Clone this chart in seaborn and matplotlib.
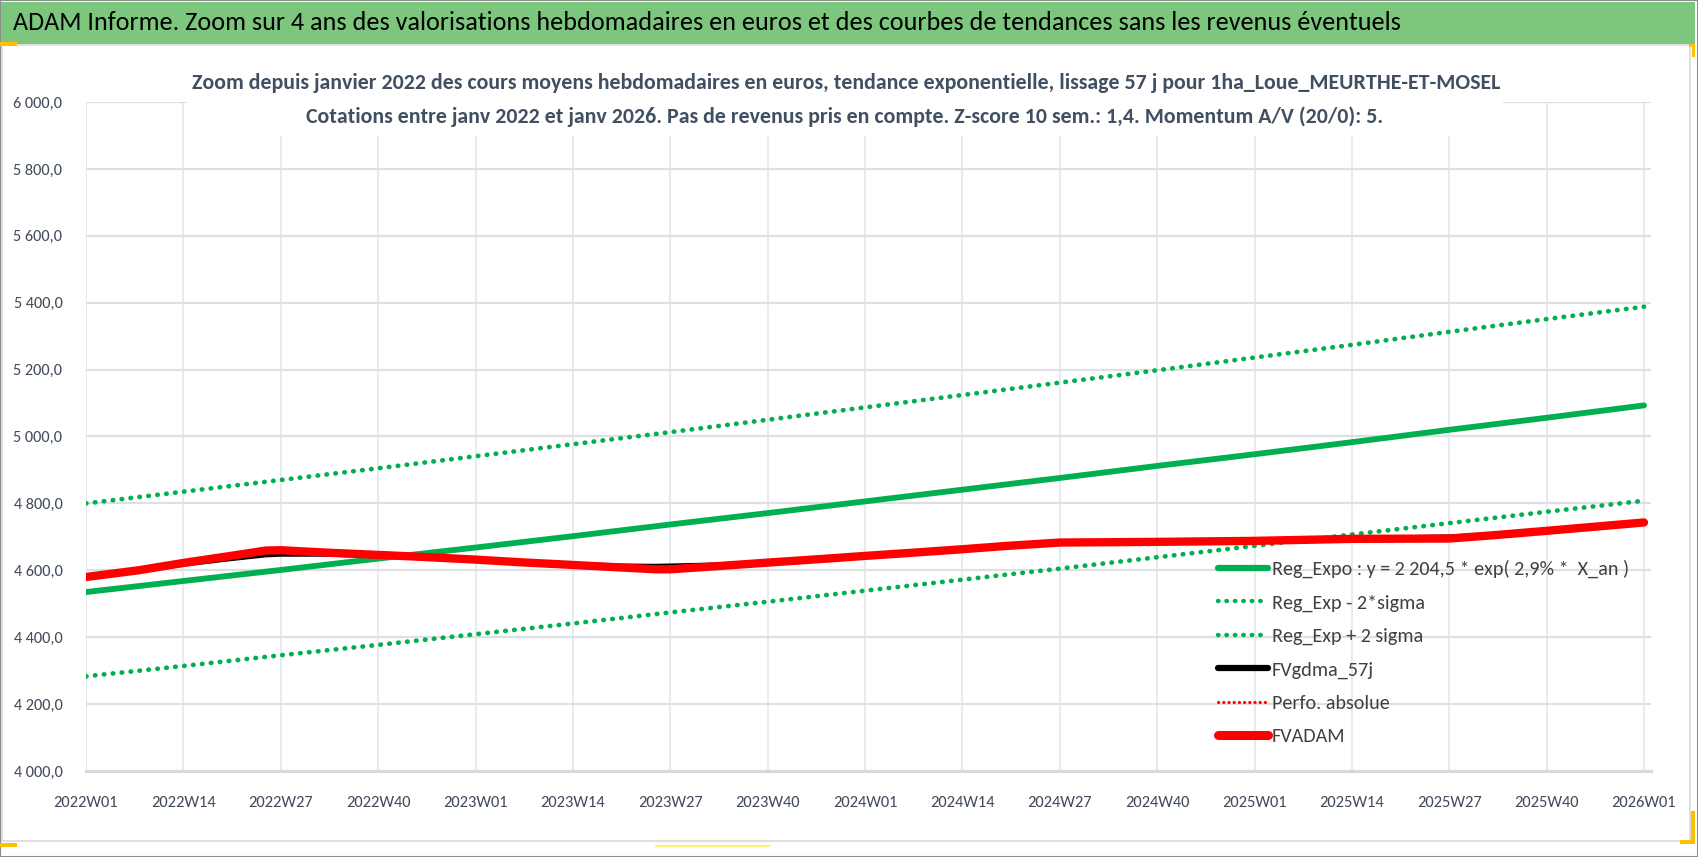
import matplotlib
matplotlib.use("Agg")
import numpy as np
import pandas as pd
import matplotlib.pyplot as plt
import seaborn as sns
from matplotlib import font_manager as fm
from matplotlib.lines import Line2D
from matplotlib.patches import Rectangle
from matplotlib.ticker import FuncFormatter, FixedLocator

# ---------------- data ----------------
tick_labels = ["2022W01", "2022W14", "2022W27", "2022W40",
               "2023W01", "2023W14", "2023W27", "2023W40",
               "2024W01", "2024W14", "2024W27", "2024W40",
               "2025W01", "2025W14", "2025W27", "2025W40",
               "2026W01"]

reg_expo = [4535, 4568, 4601, 4635, 4668, 4702, 4737, 4771, 4806,
            4841, 4876, 4912, 4947, 4983, 5020, 5056, 5093]
reg_minus = [4283, 4314, 4346, 4377, 4409, 4441, 4474, 4506, 4539,
             4572, 4605, 4639, 4673, 4707, 4741, 4775, 4808]
reg_plus = [4800, 4835, 4870, 4905, 4941, 4977, 5013, 5050, 5087,
            5124, 5161, 5198, 5236, 5274, 5313, 5351, 5388]

fv_weeks = ["2022W01", "2022W08", "2022W14", "2022W20", "2022W25", "2022W27",
            "2022W33", "2022W40", "2022W46", "2023W01", "2023W07", "2023W14",
            "2023W20", "2023W25", "2023W27", "2023W33", "2023W40", "2023W46",
            "2024W01", "2024W07", "2024W14", "2024W20", "2024W27", "2024W40",
            "2025W01", "2025W14", "2025W27", "2025W33", "2025W40", "2026W01"]
fvadam = [4580, 4600, 4622, 4642, 4659, 4660, 4653, 4646, 4640, 4632,
          4624, 4616, 4609, 4603, 4603, 4612, 4623, 4632, 4643, 4652,
          4663, 4673, 4683, 4685, 4688, 4694, 4695, 4705, 4718, 4743]
fvgdma = [4580, 4599, 4618, 4634, 4646, 4648, 4648, 4644, 4639, 4632,
          4625, 4618, 4613, 4612, 4613, 4616, 4624, 4632, 4643, 4652,
          4663, 4673, 4683, 4685, 4688, 4694, 4700, 4706, 4718, 4743]
perfo = list(fvadam)

legend_labels = ["Reg_Expo : y = 2 204,5 * exp( 2,9% *  X_an )",
                 "Reg_Exp - 2*sigma",
                 "Reg_Exp + 2 sigma",
                 "FVgdma_57j",
                 "Perfo. absolue",
                 "FVADAM"]

header_title = ("ADAM Informe. Zoom sur 4 ans des valorisations hebdomadaires en euros "
                "et des courbes de tendances sans les revenus éventuels")
sub_line1 = ("Zoom depuis janvier 2022 des cours moyens hebdomadaires en euros, tendance "
             "exponentielle, lissage 57 j pour 1ha_Loue_MEURTHE-ET-MOSEL")
sub_line2 = ("Cotations entre janv 2022 et janv 2026. Pas de revenus pris en compte. "
             "Z-score 10 sem.: 1,4. Momentum A/V (20/0): 5.")


def week_index(lbl):
    return (int(lbl[:4]) - 2022) * 52 + int(lbl[5:]) - 1


tick_x = [week_index(l) for l in tick_labels]
fv_x = [week_index(l) for l in fv_weeks]

# ---------------- style / fonts ----------------
sns.set_theme(style="white")


def available(name):
    try:
        fm.findfont(fm.FontProperties(family=name), fallback_to_default=False)
        return True
    except Exception:
        return False


MAIN = "Carlito" if available("Carlito") else ("Lato" if available("Lato") else "DejaVu Sans")
plt.rcParams["font.family"] = [MAIN, "DejaVu Sans"]

W, H = 1698, 857
fig = plt.figure(figsize=(W / 100, H / 100), dpi=100)
fig.patch.set_facecolor("white")
renderer = fig.canvas.get_renderer()

x0_px, x_end_px, right_px = 86, 1644, 1651
y_top_px, y_bot_px = 102, 771
px_per_week = (x_end_px - x0_px) / 208
ax = fig.add_axes([x0_px / W, 1 - y_bot_px / H, (right_px - x0_px) / W,
                   (y_bot_px - y_top_px) / H])
ax.set_facecolor("white")

GREEN = "#00B050"
RED = "#FF0000"

df_trend = pd.DataFrame({"x": tick_x, "expo": reg_expo, "minus": reg_minus, "plus": reg_plus})
df_fv = pd.DataFrame({"x": fv_x, "fvadam": fvadam, "fvgdma": fvgdma, "perfo": perfo})

dot = (0, (0.1, 1.8))
sns.lineplot(data=df_trend, x="x", y="expo", ax=ax, color=GREEN, linewidth=4.2,
             solid_capstyle="round", zorder=3)
sns.lineplot(data=df_trend, x="x", y="minus", ax=ax, color=GREEN, linewidth=3.4,
             linestyle=dot, dash_capstyle="round", zorder=3)
sns.lineplot(data=df_trend, x="x", y="plus", ax=ax, color=GREEN, linewidth=3.4,
             linestyle=dot, dash_capstyle="round", zorder=3)
sns.lineplot(data=df_fv, x="x", y="fvgdma", ax=ax, color="black", linewidth=3.6,
             solid_capstyle="round", zorder=4)
sns.lineplot(data=df_fv, x="x", y="perfo", ax=ax, color=RED, linewidth=2.0,
             linestyle=(0, (0.1, 1.8)), dash_capstyle="round", zorder=4)
sns.lineplot(data=df_fv, x="x", y="fvadam", ax=ax, color=RED, linewidth=6.0,
             solid_capstyle="round", zorder=5)

ax.set_xlim(0, 208 + (right_px - x_end_px) / px_per_week)
ax.set_ylim(4000, 6000)
ax.set_xlabel("")
ax.set_ylabel("")
ax.xaxis.set_major_locator(FixedLocator(tick_x))
ax.set_xticklabels(tick_labels)
ax.set_yticks(np.arange(4000, 6001, 200))
ax.yaxis.set_major_formatter(FuncFormatter(
    lambda v, _: f"{v:,.1f}".replace(",", " ").replace(".", ",")))


def fit_size(text, target_px, weight="normal"):
    t = fig.text(0, 0, text, fontsize=20, fontweight=weight)
    w = t.get_window_extent(renderer).width
    t.remove()
    return 20 * target_px / w


x_fs = fit_size("2022W01", 65)
y_fs = fit_size("6 000,0", 49)
leg_fs = fit_size(legend_labels[0], 356)

TICK_COLOR = "#404A5A"
ax.tick_params(axis="x", direction="out", length=6, width=1.2, color="#D9D9D9",
               pad=12, labelsize=x_fs, labelcolor=TICK_COLOR)
ax.tick_params(axis="y", length=0, pad=17, labelsize=y_fs, labelcolor=TICK_COLOR)

ax.grid(True, axis="y", color="#DCDFE4", linewidth=1.6)
ax.grid(True, axis="x", color="#E3E7EE", linewidth=1.2)
for s in ["top", "right", "left"]:
    ax.spines[s].set_visible(False)
ax.spines["bottom"].set_color("#D9D9D9")
ax.spines["bottom"].set_linewidth(2.2)

# ---------------- legend ----------------
handles = [
    Line2D([], [], color=GREEN, lw=4.5, solid_capstyle="round"),
    Line2D([], [], color=GREEN, lw=3.2, linestyle=dot, dash_capstyle="round"),
    Line2D([], [], color=GREEN, lw=3.2, linestyle=dot, dash_capstyle="round"),
    Line2D([], [], color="black", lw=4.5, solid_capstyle="round"),
    Line2D([], [], color=RED, lw=2.2, linestyle=(0, (0.1, 1.6)), dash_capstyle="round"),
    Line2D([], [], color=RED, lw=6.5, solid_capstyle="round"),
]
leg_px = leg_fs * 100 / 72
leg = ax.legend(handles, legend_labels, loc="upper left",
                bbox_to_anchor=(1218 / W, 1 - 560 / H), bbox_transform=fig.transFigure,
                frameon=False, fontsize=leg_fs, handlelength=50 / leg_px,
                handletextpad=4 / leg_px, labelspacing=0.8, borderpad=0, borderaxespad=0)
for t in leg.get_texts():
    t.set_color("#404040")
leg.set_zorder(10)

# ---------------- header / titles / frame ----------------
fig.patches.append(Rectangle((0, 0), 1, 1, transform=fig.transFigure, fill=False,
                             edgecolor="#8C8C8C", lw=1.5, zorder=0))
fig.patches.append(Rectangle((2 / W, 1 - 841 / H), 1688 / W, (841 - 45) / H,
                             transform=fig.transFigure, fill=False,
                             edgecolor="#D9D9D9", lw=1.2, zorder=0))
fig.patches.append(Rectangle((1 / W, 1 - 44 / H), 1694 / W, 42 / H,
                             transform=fig.transFigure, facecolor="#7DC67E",
                             edgecolor="none", zorder=1))
# white box behind the chart subtitle (hides gridlines there)
fig.patches.append(Rectangle((187 / W, 1 - 136 / H), (1503 - 187) / W, 76 / H,
                             transform=fig.transFigure, facecolor="white",
                             edgecolor="none", zorder=2))
# selection handles visible in the screenshot
GOLD = "#FFC000"
for (x, y, w, h, c) in [(0, 42, 17, 4, GOLD), (1689, 44, 6, 3, GOLD), (1692, 44, 3, 13, GOLD),
                        (0, 843, 17, 4, GOLD), (1691, 811, 4, 33, GOLD),
                        (1680, 840, 15, 4, GOLD), (655, 845, 115, 2, "#FFF176")]:
    fig.patches.append(Rectangle((x / W, 1 - (y + h) / H), w / W, h / H,
                                 transform=fig.transFigure, facecolor=c,
                                 edgecolor="none", zorder=6))

head_fs = fit_size(header_title, 1379)
s1_fs = fit_size(sub_line1, 1310, "bold")
s2_fs = fit_size(sub_line2, 1077, "bold")
fig.text(13 / W, 1 - 23 / H, header_title, ha="left", va="center",
         fontsize=head_fs, color="black", zorder=5)
fig.text(846 / W, 1 - 83 / H, sub_line1, ha="center", va="center",
         fontsize=s1_fs, fontweight="bold", color="#404F61", zorder=5)
fig.text(845 / W, 1 - 117 / H, sub_line2, ha="center", va="center",
         fontsize=s2_fs, fontweight="bold", color="#404F61", zorder=5)

fig.savefig("out.png", dpi=100)
